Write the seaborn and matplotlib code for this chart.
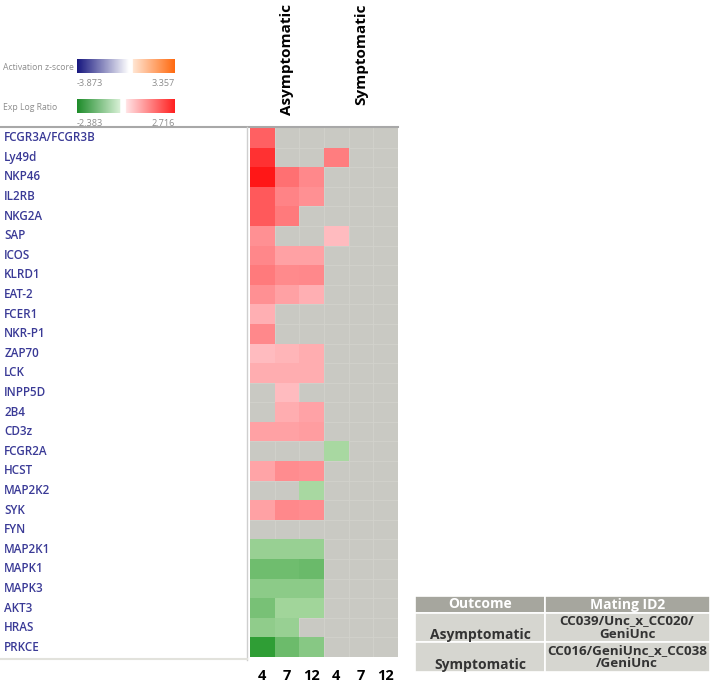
import numpy as np
import pandas as pd
import matplotlib
matplotlib.use("Agg")
import matplotlib.pyplot as plt
import seaborn as sns
from matplotlib.colors import LinearSegmentedColormap
from matplotlib.lines import Line2D
from matplotlib.patches import Rectangle
from matplotlib.transforms import blended_transform_factory

# ---- data ----
genes = ["FCGR3A/FCGR3B", "Ly49d", "NKP46", "IL2RB", "NKG2A", "SAP", "ICOS",
         "KLRD1", "EAT-2", "FCER1", "NKR-P1", "ZAP70", "LCK", "INPP5D", "2B4",
         "CD3z", "FCGR2A", "HCST", "MAP2K2", "SYK", "FYN", "MAP2K1", "MAPK1",
         "MAPK3", "AKT3", "HRAS", "PRKCE"]
days = ["4", "7", "12", "4", "7", "12"]
outcomes = ["Asymptomatic", "Symptomatic"]
nan = np.nan
asym_d4 = [1.6, 2.3, 2.716, 1.7, 1.7, 0.86, 1.0, 1.2, 0.86, 0.37, 0.98, 0.2, 0.42, nan,
           nan, 0.6, nan, 0.55, nan, 0.6, nan, -0.65, -1.31, -0.84, -1.17, -0.78, -2.383]
asym_d7 = [nan, nan, 1.35, 1.05, 1.2, nan, 0.6, 0.95, 0.6, nan, nan, 0.3, 0.42, 0.2,
           0.42, 0.6, nan, 0.92, nan, 0.98, nan, -0.65, -1.31, -0.84, -0.51, -0.65, -1.37]
asym_d12 = [nan, nan, 0.98, 0.86, nan, nan, 0.6, 0.98, 0.37, nan, nan, 0.42, 0.42, nan,
            0.58, 0.65, nan, 0.86, -0.38, 0.92, nan, -0.65, -1.4, -0.84, -0.51, nan, -0.91]
sym_d4 = [nan, 1.15, nan, nan, nan, 0.2, nan, nan, nan, nan, nan, nan, nan, nan,
          nan, nan, -0.38, nan, nan, nan, nan, nan, nan, nan, nan, nan, nan]
sym_d7 = [nan] * len(genes)
sym_d12 = [nan] * len(genes)
zscore_range = [-3.873, 3.357]
ratio_range = [-2.383, 2.716]
table_header = ["Outcome", "Mating ID2"]
table_rows = [["Asymptomatic", "CC039/Unc_x_CC020/\nGeniUnc"],
              ["Symptomatic", "CC016/GeniUnc_x_CC038\n/GeniUnc"]]

values = np.array([asym_d4, asym_d7, asym_d12, sym_d4, sym_d7, sym_d12]).T
df = pd.DataFrame(values, index=genes, columns=range(len(days)))

W, H = 711, 691
fig = plt.figure(figsize=(W / 100, H / 100), dpi=100)
fig.patch.set_facecolor("white")
font = ["Open Sans", "DejaVu Sans"]

# colormap: green -> light green | light pink -> red
c0 = -ratio_range[0] / (ratio_range[1] - ratio_range[0])
cmap = LinearSegmentedColormap.from_list(
    "exp", [(0, "#2f9e35"), (c0 - 0.001, "#bfe3b5"), (c0, "#ffc8cc"), (1, "#ff1717")])

# ---- heatmap ----
ax = fig.add_axes([250 / W, 1 - 657 / H, 148 / W, 529 / H])
ax.set_facecolor("#c9c9c3")
sns.heatmap(df, ax=ax, cmap=cmap, vmin=ratio_range[0], vmax=ratio_range[1],
            cbar=False, xticklabels=days, yticklabels=genes)
for i in range(1, len(genes)):
    ax.axhline(i, color="#d2d2cc", lw=0.6, zorder=0.5)
for j in range(1, len(days)):
    ax.axvline(j, color="#d2d2cc", lw=0.6, zorder=0.5)
ax.tick_params(axis="y", length=0, pad=177)
ax.tick_params(axis="x", length=0, pad=9)
for t in ax.get_yticklabels():
    t.set_ha("left")
    t.set_color("#3a3a96")
    t.set_fontsize(8.4)
    t.set_fontweight(600)
    t.set_family(font)
    t.set_rotation(0)
for t in ax.get_xticklabels():
    t.set_fontsize(10.5)
    t.set_fontweight("bold")
    t.set_family(font)
    t.set_rotation(0)

trans = blended_transform_factory(ax.transData, fig.transFigure)
for x, name in zip([1.5, 4.5], outcomes):
    ax.text(x, 1 - 4 / H, name, rotation=90, ha="center", va="top",
            fontsize=11, fontweight="bold", family=font, transform=trans)

# frame lines
fig.add_artist(Line2D([0, 398 / W], [1 - 127 / H] * 2, color="#a8a8a8", lw=1.5))
fig.add_artist(Line2D([247 / W] * 2, [1 - 127 / H, 1 - 660 / H], color="#cfcfcf", lw=1))
fig.add_artist(Line2D([0, 247 / W], [1 - 659 / H] * 2, color="#e2e2dc", lw=1.5))

# ---- legend bars ----
def gradient_bar(y_top, low_colors, high_colors, gap, labels, title):
    bax = fig.add_axes([77 / W, 1 - (y_top + 14) / H, 98 / W, 14 / H])
    n = 256
    lo = LinearSegmentedColormap.from_list("lo", low_colors)
    hi = LinearSegmentedColormap.from_list("hi", high_colors)
    grad = np.linspace(0, 1, n)
    rgb = np.ones((1, n, 3))
    for k, g in enumerate(grad):
        if g < gap[0]:
            rgb[0, k] = lo(g / gap[0])[:3]
        elif g > gap[1]:
            rgb[0, k] = hi((g - gap[1]) / (1 - gap[1]))[:3]
    bax.imshow(rgb, aspect="auto", extent=[0, 1, 0, 1])
    bax.set_axis_off()
    fig.text(3 / W, 1 - (y_top + 8) / H, title, fontsize=6.2, color="#8c8c8c",
             va="center", family=font)
    fig.text(77 / W, 1 - (y_top + 24) / H, f"{labels[0]:.3f}", fontsize=6.6,
             color="#8c8c8c", va="center", ha="left", family=font)
    fig.text(175 / W, 1 - (y_top + 24) / H, f"{labels[1]:.3f}", fontsize=6.6,
             color="#8c8c8c", va="center", ha="right", family=font)

gradient_bar(59, ["#17177f", "#ffffff"], ["#ffe6d4", "#ff6a10"], (0.53, 0.57),
             zscore_range, "Activation z-score")
gradient_bar(99, ["#1e8c2a", "#d8f0d6"], ["#ffe4e6", "#ff2020"], (0.44, 0.50),
             ratio_range, "Exp Log Ratio")

# ---- table ----
tax = fig.add_axes([415 / W, 1 - 672 / H, 295 / W, 76 / H])
tax.set_xlim(0, 295)
tax.set_ylim(76, 0)
tax.set_axis_off()
col_x = [0, 130, 295]
row_y = [0, 17, 46, 76]
bgs = ["#a6a69e", "#d6d6d0", "#d6d6d0"]
for r in range(3):
    for c in range(2):
        tax.add_patch(Rectangle((col_x[c], row_y[r]), col_x[c + 1] - col_x[c],
                                row_y[r + 1] - row_y[r], facecolor=bgs[r],
                                edgecolor="white", lw=1.2))
for c, h in enumerate(table_header):
    tax.text((col_x[c] + col_x[c + 1]) / 2, 8.5, h, ha="center", va="center",
             color="white", fontweight="bold", fontsize=10, family=font)
for r, row in enumerate(table_rows):
    y0, y1 = row_y[r + 1], row_y[r + 2]
    tax.text(65, y1 - 7, row[0], ha="center", va="center", color="#333333",
             fontweight="bold", fontsize=10, family=font)
    tax.text(212, (y0 + y1) / 2, row[1], ha="center", va="center", color="#333333",
             fontweight="bold", fontsize=9.6, family=font, linespacing=1.05)

fig.savefig("out.png", dpi=100)
